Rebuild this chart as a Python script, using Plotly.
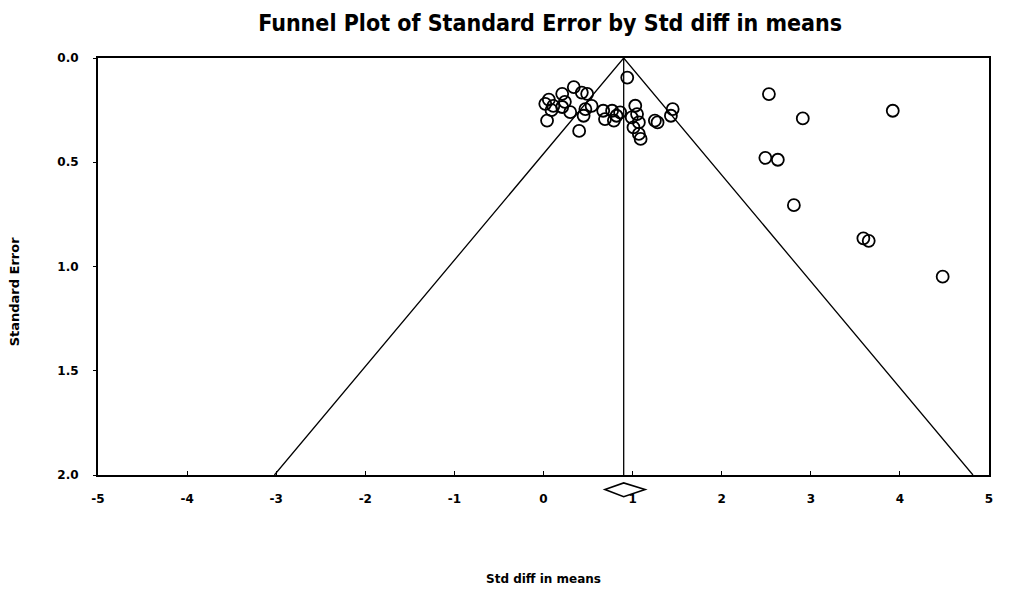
import plotly.graph_objects as go

# study effects (std diff in means) and standard errors
std_diff = [0.94, 0.34, 0.43, 0.21, 0.49, 0.02, 0.06, 0.09, 0.11, 0.04, 0.21, 0.30, 0.24,
            0.45, 0.47, 0.40, 0.54, 0.67, 0.69, 0.77, 0.82, 0.79, 0.86, 1.03, 1.05, 0.99,
            1.07, 1.01, 1.07, 1.09, 1.25, 1.45, 1.43, 1.28,
            2.53, 2.91, 3.92, 2.49, 2.63, 2.81, 3.59, 3.65, 4.48]
std_err = [0.094, 0.14, 0.166, 0.172, 0.172, 0.22, 0.20, 0.25, 0.23, 0.30, 0.235, 0.26, 0.21,
           0.277, 0.245, 0.35, 0.23, 0.253, 0.293, 0.253, 0.277, 0.30, 0.261, 0.229, 0.269, 0.285,
           0.309, 0.333, 0.364, 0.388, 0.30, 0.245, 0.277, 0.309,
           0.173, 0.29, 0.253, 0.479, 0.488, 0.706, 0.865, 0.877, 1.049]

x_ticks = [-5, -4, -3, -2, -1, 0, 1, 2, 3, 4, 5]
x_tick_labels = ["-5", "-4", "-3", "-2", "-1", "0", "1", "2", "3", "4", "5"]
y_ticks = [0, 0.5, 1.0, 1.5, 2.0]

pooled = 0.90
ci_low, ci_high = 0.69, 1.14
se_max = 2.0
z = 1.96

fig = go.Figure()

# funnel
fig.add_trace(go.Scatter(
    x=[pooled - z * se_max, pooled, pooled + z * se_max], y=[se_max, 0, se_max],
    mode="lines", line=dict(color="black", width=1.3), hoverinfo="skip", showlegend=False))
fig.add_trace(go.Scatter(
    x=[pooled, pooled], y=[0, se_max],
    mode="lines", line=dict(color="black", width=1.3), hoverinfo="skip", showlegend=False))

fig.add_trace(go.Scatter(
    x=std_diff, y=std_err, mode="markers",
    marker=dict(symbol="circle-open", size=12, color="black", line=dict(width=1.8)),
    showlegend=False))

# summary diamond under the axis
d_top, d_mid, d_bot = -0.019, -0.035, -0.052
fig.add_shape(type="path", xref="x", yref="paper",
              path=f"M {ci_low},{d_mid} L {pooled},{d_top} L {ci_high},{d_mid} L {pooled},{d_bot} Z",
              line=dict(color="black", width=1.6), fillcolor="white")

tick_font = dict(family="Verdana, DejaVu Sans", size=12, color="black", weight="bold")

fig.update_xaxes(range=[-5, 5], tickvals=x_ticks, ticktext=x_tick_labels, ticks="inside",
                 ticklen=4, tickcolor="black", showline=True, linecolor="black", linewidth=2,
                 mirror=True, showgrid=False, zeroline=False, tickfont=tick_font,
                 ticklabelstandoff=12)
fig.update_yaxes(range=[2.0, 0.0], tickvals=y_ticks, tickformat=".1f",
                 ticks="outside", ticklen=3, tickcolor="black", showline=True, linecolor="black",
                 linewidth=2, mirror=True, showgrid=False, zeroline=False, tickfont=tick_font,
                 ticklabelstandoff=12)

fig.add_annotation(text="Std diff in means", xref="paper", yref="paper", x=0.5, y=-0.272,
                   showarrow=False, font=dict(family="Verdana, DejaVu Sans", size=12,
                                              color="black", weight="bold"))
fig.add_annotation(text="Standard Error", xref="paper", yref="paper", x=-0.104, y=0.44,
                   textangle=-90, showarrow=False,
                   font=dict(family="Verdana, DejaVu Sans", size=13, color="black",
                             weight="bold"))

fig.update_layout(
    width=1021, height=605,
    margin=dict(l=90, r=40, t=50, b=138),
    plot_bgcolor="white", paper_bgcolor="white",
    title=dict(text="Funnel Plot of Standard Error by Std diff in means",
               x=0.531, xanchor="center", y=0.975, yanchor="middle",
               font=dict(family="DejaVu Sans Condensed, Liberation Sans",
                         size=23, color="black", weight="bold")),
)

fig.write_html("out.html")
